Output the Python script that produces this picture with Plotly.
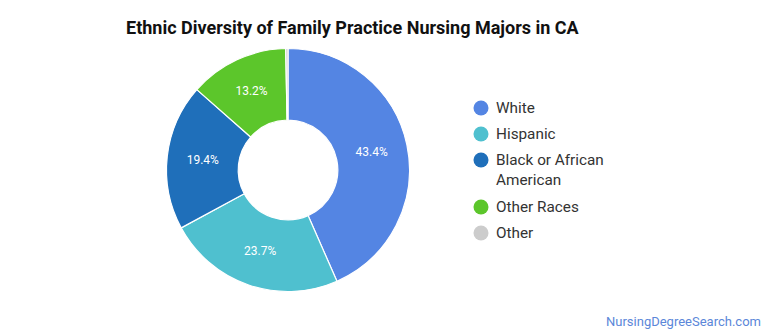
import plotly.graph_objects as go

categories = ["White", "Hispanic", "Black or African American", "Other Races", "Other"]
legend_labels = ["White", "Hispanic", "Black or African<br>American", "Other Races", "Other"]
values = [43.4, 23.7, 19.4, 13.2, 0.3]
colors = ["#5485e3", "#4fc0cf", "#1f6fba", "#5cc62b", "#cccccc"]

W, H = 770, 335
cx, cy, r = 288, 170, 121.5

fig = go.Figure()
fig.add_trace(go.Pie(
    labels=categories, values=values, sort=False, direction="clockwise", rotation=0,
    hole=0.41, marker=dict(colors=colors, line=dict(color="white", width=1.2)),
    texttemplate=["%{value:.1f}%"] * 4 + [""], textposition="inside",
    insidetextfont=dict(color="white", size=12, family="Roboto"),
    showlegend=False, hoverinfo="label+value",
    domain=dict(x=[(cx - r) / W, (cx + r) / W], y=[(H - cy - r) / H, (H - cy + r) / H]),
))

leg_x = 481
leg_y = [108, 134, 160, 207, 233]
fig.add_trace(go.Scatter(
    x=[leg_x] * len(leg_y), y=leg_y, mode="markers",
    marker=dict(size=15, color=colors), showlegend=False, hoverinfo="skip",
))
for lab, y in zip(legend_labels, leg_y):
    fig.add_annotation(x=494, y=y - 11, xref="x", yref="y", text=lab, showarrow=False,
                       xanchor="left", yanchor="top", align="left",
                       font=dict(size=15.3, color="#333333", family="Roboto"))

fig.add_annotation(x=124, y=27, xref="x", yref="y", text="<b>Ethnic Diversity of Family Practice Nursing Majors in CA</b>",
                   showarrow=False, xanchor="left", yanchor="middle",
                   font=dict(size=18, color="#111111", family="Roboto"))
fig.add_annotation(x=763, y=321, xref="x", yref="y", text="NursingDegreeSearch.com",
                   showarrow=False, xanchor="right", yanchor="middle",
                   font=dict(size=13, color="#5b87d9", family="Roboto"))

fig.update_layout(
    width=W, height=H, margin=dict(l=0, r=0, t=0, b=0),
    paper_bgcolor="white", plot_bgcolor="rgba(0,0,0,0)",
    xaxis=dict(range=[0, W], visible=False, fixedrange=True),
    yaxis=dict(range=[H, 0], visible=False, fixedrange=True),
)
fig.write_html("out.html")
